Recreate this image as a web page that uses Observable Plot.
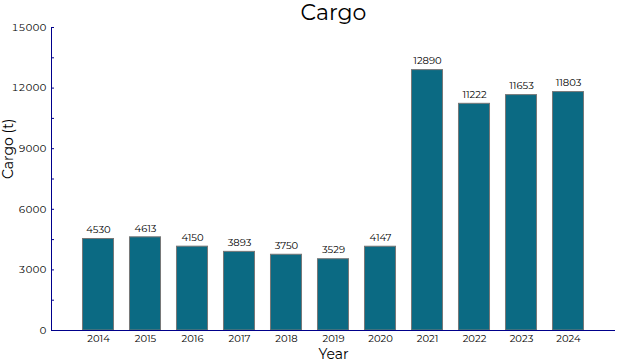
<!DOCTYPE html>
<html>
<head>
<meta charset="utf-8">
<script src="https://cdn.jsdelivr.net/npm/d3@7"></script>
<script src="https://cdn.jsdelivr.net/npm/@observablehq/plot@0.6"></script>
<style>
  html, body { margin: 0; padding: 0; background: #fff; }
  #chart { width: 622px; height: 363px; }
</style>
</head>
<body>
<div id="chart"></div>
<script>
const years = ["2014","2015","2016","2017","2018","2019","2020","2021","2022","2023","2024"];
const cargo = [4530, 4613, 4150, 3893, 3750, 3529, 4147, 12890, 11222, 11653, 11803];
const yTicks = [0, 3000, 6000, 9000, 12000, 15000];
const yMinorTicks = [1500, 4500, 7500, 10500, 13500];
const titleText = "Cargo";

const data = years.map((y, i) => ({year: y, value: cargo[i]}));
const font = "Montserrat, Lato, 'Noto Sans', sans-serif";
const axisColor = "#00008b";

const chart = Plot.plot({
  width: 622,
  height: 363,
  marginLeft: 51,
  marginRight: 7,
  marginTop: 27,
  marginBottom: 33,
  style: {fontFamily: font, fontSize: "10px", color: "#000", background: "#fff"},
  x: {domain: years, paddingInner: 0.34, paddingOuter: 0.67, round: false, label: null},
  y: {domain: [0, 15000], label: null},
  marks: [
    Plot.barY(data, {x: "year", y: "value", fill: "#0b6a83", stroke: "#777777", strokeWidth: 1}),
    Plot.text(data, {x: "year", y: "value", text: d => String(d.value), dy: -9, fontSize: 10, fill: "#000"}),
    Plot.axisX({tickSize: 0, tickPadding: 4, fontSize: 10, label: null}),
    Plot.axisY({ticks: yTicks, tickSize: -3, stroke: axisColor, tickPadding: 8, fontSize: 10, label: null, tickFormat: d => String(d)}),
    Plot.axisY({ticks: yMinorTicks, tickSize: -3, stroke: axisColor, tickFormat: () => "", label: null}),
    Plot.frame({anchor: "left", stroke: axisColor}),
    Plot.ruleY([0], {stroke: axisColor}),
    Plot.text([titleText], {frameAnchor: "top", lineAnchor: "middle", dy: -15, fontSize: 22, fill: "#000", text: d => d}),
    Plot.text(["Year"], {frameAnchor: "bottom", lineAnchor: "middle", dy: 24, fontSize: 14, fill: "#000", text: d => d}),
    Plot.text(["Cargo (t)"], {frameAnchor: "left", lineAnchor: "middle", dx: -43, rotate: -90, fontSize: 14, fill: "#000", text: d => d})
  ]
});
document.getElementById("chart").appendChild(chart);
</script>
</body>
</html>
